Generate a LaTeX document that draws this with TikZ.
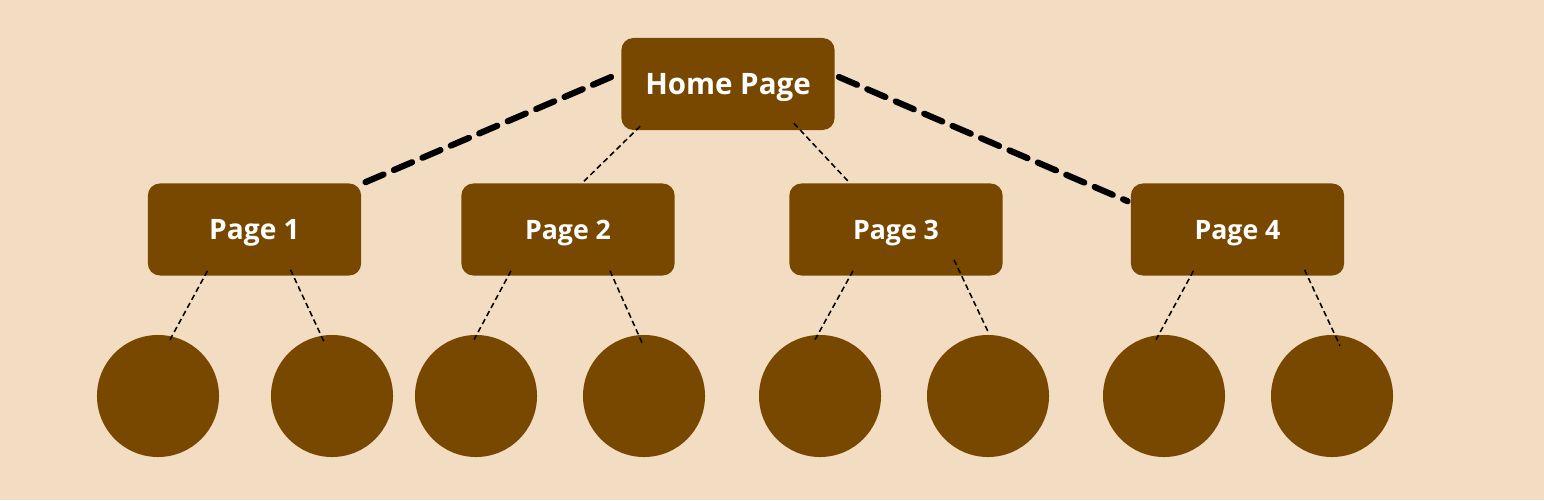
\documentclass[tikz,border=0pt]{standalone}
\usepackage{fontspec}
\setmainfont{Open Sans}
\usetikzlibrary{positioning,calc}
\definecolor{paper}{RGB}{242,221,194}
\definecolor{bark}{RGB}{120,72,0}
\tikzset{
  pagebox/.style={fill=bark, rounded corners=0.3cm, minimum width=5.33cm, minimum height=2.3cm,
    text=white, font=\fontsize{19}{22}\selectfont\bfseries, inner sep=0pt,
    text height=13.6pt, text depth=0pt},
  homebox/.style={pagebox, font=\fontsize{21}{25}\selectfont\bfseries, text height=15pt},
  leaf/.style={circle, fill=bark, minimum size=3.05cm, inner sep=0pt},
  bigdash/.style={line width=4.4pt, dash pattern=on 14pt off 8pt, line cap=round},
  smalldash/.style={line width=1.1pt, dash pattern=on 4pt off 2.5pt},
}

\begin{document}
\begin{tikzpicture}[x=0.025cm, y=-0.025cm]
  % --- canvas ---
  \fill[paper] (0,0) rectangle (1544,500);
  \useasboundingbox (0,0) rectangle (1544,500);

  % --- boxes ---
  \node[homebox] (home) at (728,84) {Home Page};
  \node[pagebox, font=\fontsize{20}{24}\selectfont\bfseries, text height=14.3pt] (p1) at (254.5,229.5) {Page 1};
  \node[pagebox] (p2) at (568,229.5) {Page 2};
  \node[pagebox] (p3) at (896,229.5) {Page 3};
  \node[pagebox] (p4) at (1237.5,229.5) {Page 4};

  % --- leaves ---
  \node[leaf] (c1) at (158,396) {};
  \node[leaf] (c2) at (332,396) {};
  \node[leaf] (c3) at (476,396) {};
  \node[leaf] (c4) at (644,396) {};
  \node[leaf] (c5) at (820,396) {};
  \node[leaf] (c6) at (988,396) {};
  \node[leaf] (c7) at (1164,396) {};
  \node[leaf] (c8) at (1332,396) {};

  % --- home to pages ---
  \draw[bigdash] ($(home.west)+(-10,-7)$) -- ($(p1.north east)+(4,-1)$);
  \draw[bigdash] ($(home.east)+(4,-7)$) -- ($(p4.north west)+(-3,18)$);
  \draw[smalldash] ($(home.south west)+(19,-4)$) -- ($(p2.north)+(16,-2)$);
  \draw[smalldash] ($(home.south east)+(-41,-7)$) -- ($(p3.north)+(-47,-1)$);

  % --- pages to leaves ---
  \draw[smalldash] ($(p1.south)+(-47,-5)$) -- ($(c1.north)+(12,5)$);
  \draw[smalldash] ($(p1.south)+(36,-6)$) -- ($(c2.north)+(-8,7)$);
  \draw[smalldash] ($(p2.south)+(-57,-5)$) -- ($(c3.north)+(-2,5)$);
  \draw[smalldash] ($(p2.south)+(42,-5)$) -- ($(c4.north)+(-2,8)$);
  \draw[smalldash] ($(p3.south)+(-43,-5)$) -- ($(c5.north)+(-5,5)$);
  \draw[smalldash] ($(p3.south)+(58,-16)$) -- ($(c6.north)+(1,-1)$);
  \draw[smalldash] ($(p4.south)+(-44,-5)$) -- ($(c7.north)+(-8,5)$);
  \draw[smalldash] ($(p4.south)+(67,-6)$) -- ($(c8.north)+(8,11)$);
\end{tikzpicture}
\end{document}
